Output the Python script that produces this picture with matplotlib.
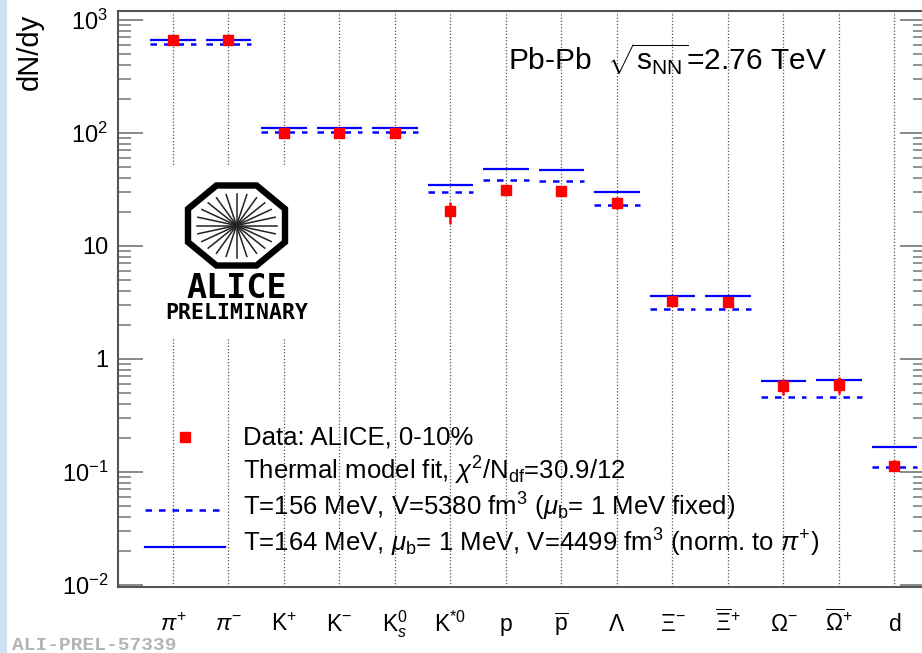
import numpy as np
import matplotlib
matplotlib.use("Agg")
import matplotlib.pyplot as plt
from matplotlib.lines import Line2D
from matplotlib.patches import Polygon, Rectangle
from matplotlib.ticker import FixedLocator, LogLocator, NullFormatter, FuncFormatter

plt.rcParams.update({
    "font.family": "Liberation Sans",
    "mathtext.fontset": "custom",
    "mathtext.rm": "Liberation Sans",
    "mathtext.it": "Liberation Sans:italic",
    "mathtext.bf": "Liberation Sans:bold",
})

RED = "#ff0000"
BLUE = "#0000ff"

# particles
labels = [r"$\pi^{+}$", r"$\pi^{-}$", r"$\mathrm{K}^{+}$", r"$\mathrm{K}^{-}$",
          r"$\mathrm{K}^{0}_{s}$", r"$\mathrm{K}^{*0}$", r"$\mathrm{p}$",
          r"$\overline{\mathrm{p}}$", r"$\Lambda$", r"$\Xi^{-}$",
          r"$\overline{\Xi}^{+}$", r"$\Omega^{-}$", r"$\overline{\Omega}^{+}$",
          r"$\mathrm{d}$"]
# ALICE 0-10%
data_y = [666, 668, 100, 100, 99, 20.2, 31.1, 30.5, 24.1, 3.27, 3.20, 0.573, 0.592, 0.114]
data_err = [30, 30, 6, 6, 6, 4.5, 2.0, 2.0, 3.0, 0.2, 0.2, 0.09, 0.10, 0.013]
# thermal model, T=164 MeV (solid) and T=156 MeV (dashed)
model_164 = [666, 666, 110.7, 110.7, 110.7, 34.3, 48.4, 47.4, 29.9, 3.61, 3.61, 0.634, 0.655, 0.166]
model_156 = [614, 614, 102, 102, 102, 29.9, 38.2, 37.4, 22.9, 2.76, 2.76, 0.458, 0.464, 0.110]

yticks = [1e-2, 1e-1, 1, 10, 1e2, 1e3]

W, H = 922, 653


def fx(px):
    return px / W


def fy(py):
    return 1 - py / H


fig = plt.figure(figsize=(W / 100, H / 100), dpi=100)
fig.add_artist(Rectangle((0, 0), fx(6), 1, transform=fig.transFigure,
                         color="#cfe2f3", zorder=0))

ax = fig.add_axes([fx(118), fy(587), fx(925) - fx(118), fy(11) - fy(587)])
pos = np.arange(len(labels))

for x in pos:
    ax.axvline(x, color="#555555", lw=0.9, ls=(0, (1, 1.6)), zorder=0.5)

ax.hlines(model_164, pos - 0.41, pos + 0.41, colors=BLUE, lw=1.6, zorder=2)
ax.hlines(model_156, pos - 0.41, pos + 0.41, colors=BLUE, lw=1.8,
          linestyles=[(0, (2.6, 2.8))], zorder=2)
ax.errorbar(pos, data_y, yerr=data_err, fmt="s", ms=7.2, color=RED,
            ecolor=RED, elinewidth=1.8, capsize=0, zorder=3)

ax.set_yscale("log")
ax.set_ylim(0.0096, 1200)
ax.set_xlim(-0.99, 13.55)


def ylab(v, _):
    e = int(round(np.log10(v)))
    if e == 0:
        return "1"
    if e == 1:
        return "10"
    return r"$10^{%d}$" % e


ax.yaxis.set_major_locator(FixedLocator(yticks))
ax.yaxis.set_major_formatter(FuncFormatter(ylab))
ax.yaxis.set_minor_locator(LogLocator(base=10, subs=np.arange(2, 10)))
ax.yaxis.set_minor_formatter(NullFormatter())
ax.tick_params(axis="y", which="major", direction="in", length=18, width=1.3,
               color="#808080", labelsize=17, pad=7, left=True, right=True)
ax.tick_params(axis="y", which="minor", direction="in", length=9, width=1.2,
               color="#808080", left=True, right=True)

ax.set_xticks(pos)
ax.set_xticklabels(labels, fontsize=16.5)
ax.tick_params(axis="x", length=0, pad=32)
for t in ax.get_xticklabels():
    t.set_va("baseline")

for s in ax.spines.values():
    s.set_color("#555555")
    s.set_linewidth(1.5)

fig.text(fx(30), fy(52), "dN/dy", rotation=90, ha="center", va="center", fontsize=21)
fig.text(fx(508), fy(70), r"Pb-Pb  $\sqrt{\mathrm{s}_{\rm NN}}$=2.76 TeV", fontsize=21.5,
         va="baseline")

# legend
fig.add_artist(Line2D([fx(185)], [fy(437)], marker="s", ms=7.2, color=RED, ls="none"))
fig.add_artist(Line2D([fx(145), fx(225)], [fy(510), fy(510)], color=BLUE, lw=1.8,
                      ls=(0, (2.6, 2.8))))
fig.add_artist(Line2D([fx(145), fx(225)], [fy(547), fy(547)], color=BLUE, lw=1.6))
leg_rows = [
    (444, "Data: ALICE, 0-10%"),
    (480, r"Thermal model fit, $\chi^{2}$/N$_{\rm df}$=30.9/12"),
    (516, r"T=156 MeV, V=5380 fm$^{3}$ ($\mu_{\rm b}$= 1 MeV fixed)"),
    (552, r"T=164 MeV, $\mu_{\rm b}$= 1 MeV, V=4499 fm$^{3}$ (norm. to $\pi^{+}$)"),
]
for yy, txt in leg_rows:
    fig.text(fx(243), fy(yy), txt, fontsize=18.5, va="baseline")

# ALICE preliminary logo
lax = fig.add_axes([fx(150), fy(338), fx(322) - fx(150), fy(165) - fy(338)])
lax.set_xlim(150, 322)
lax.set_ylim(338, 165)
lax.set_xticks([])
lax.set_yticks([])
for s in lax.spines.values():
    s.set_visible(False)
cx, cy = 236.5, 225.5
ang = np.deg2rad(22.5 + 45 * np.arange(8))
octo = np.column_stack([cx + 52.5 * np.cos(ang), cy + 43.3 * np.sin(ang)])
lax.add_patch(Polygon(octo, closed=True, fill=False, lw=4.6, ec="black", joinstyle="miter"))
for a in np.deg2rad(np.arange(0, 180, 15)):
    lax.plot([cx - 40 * np.cos(a), cx + 40 * np.cos(a)],
             [cy - 32 * np.sin(a), cy + 32 * np.sin(a)], color="#222222", lw=1.1)
lax.text(cx, 288, "ALICE", ha="center", va="center", fontsize=24,
         family="DejaVu Sans Mono", weight="bold")
lax.text(cx, 313, "PRELIMINARY", ha="center", va="center", fontsize=15.5,
         family="DejaVu Sans Mono", weight="bold")

fig.text(fx(12), fy(650), "ALI-PREL-57339", fontsize=14, family="Liberation Mono",
         weight="bold", color="#b4b4b4", va="baseline")

fig.savefig("out.png", dpi=100, facecolor="white")
